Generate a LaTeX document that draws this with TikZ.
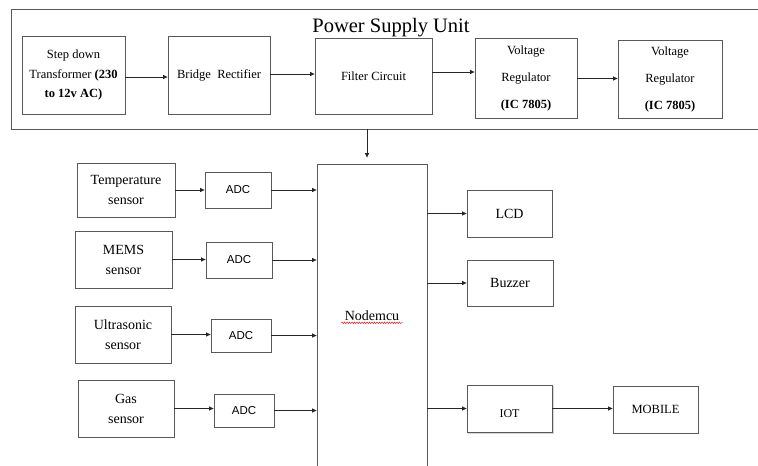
\documentclass[tikz,border=0pt]{standalone}
\usepackage{fontspec}
\setmainfont{Liberation Serif}
\setsansfont{Liberation Sans}
\usepackage{xcolor}
\usetikzlibrary{calc,positioning,arrows.meta,decorations.pathmorphing}

\tikzset{
  blk/.style={draw=black!65, line width=0.8pt, inner sep=0pt, align=center},
  arr/.style={draw=black!85, line width=0.7pt, -{Triangle[length=4.5pt,width=4pt]}},
}
\newcommand{\fs}[2]{\fontsize{#1}{#2}\selectfont}

\begin{document}
\begin{tikzpicture}[x=1pt, y=-1pt]
  \useasboundingbox (0,0) rectangle (758,466);
  \clip (0,0) rectangle (758,466);
  % --- power supply unit ---
  \node[blk, minimum width=760, minimum height=120] (psu) at (391,69) {};
  \node[font=\fs{20.5}{24}] (psutitle) at (391,28) {Power Supply Unit};
  \node[blk, minimum width=103, minimum height=78, font=\fs{12.5}{19.5}] (stepdown) at (73.5,75)
    {Step down\\Transformer \textbf{(230}\\\textbf{to 12v AC)}};
  \node[blk, minimum width=102, minimum height=78, font=\fs{12.5}{15}] (bridge) at (219,75) {Bridge\ \ Rectifier};
  \node[blk, minimum width=117, minimum height=76, font=\fs{12.5}{15}] (filter) at (373.5,76) {Filter Circuit};
  \node[blk, minimum width=102, minimum height=80, font=\fs{12.5}{27}] (regA) at (526,78.5)
    {Voltage\\Regulator\\\textbf{(IC 7805)}};
  \node[blk, minimum width=104, minimum height=78, font=\fs{12.5}{27}] (regB) at (670,79)
    {Voltage\\Regulator\\\textbf{(IC 7805)}};
  \draw[arr] ([yshift=-2pt]stepdown.east) -- ([yshift=-2pt]stepdown.east -| bridge.west);
  \draw[arr] ([yshift=1pt]bridge.east) -- ([yshift=1pt]bridge.east -| filter.west);
  \draw[arr] ([yshift=4pt]filter.east) -- ([yshift=4pt]filter.east -| regA.west);
  \draw[arr] (regA) -- (regA -| regB.west);
  % --- controller ---
  \node[blk, minimum width=110, minimum height=336] (nodemcu) at (372,332) {};
  \node[font=\fs{14}{16}] (nodelabel) at (372,316) {Nodemcu};
  \draw[red!80!black, line width=0.4pt, decorate,
        decoration={snake, amplitude=0.8pt, segment length=2.5pt}]
    ([yshift=-2pt]nodelabel.base west) -- ([yshift=-2pt]nodelabel.base east);
  \draw[arr, shorten >=6pt] (psu.south -| 367,0) -- (nodemcu.north -| 367,0);
  % --- sensors ---
  \node[blk, minimum width=98, minimum height=54, font=\fs{14}{20}] (temp) at (126,190) {Temperature\\sensor};
  \node[blk, minimum width=66, minimum height=36, font=\sffamily\fs{11.5}{14}] (adcA) at (238,190) {ADC};
  \node[blk, minimum width=97, minimum height=57, font=\fs{14}{20}] (mems) at (123.5,259.5) {MEMS\\sensor};
  \node[blk, minimum width=66, minimum height=36, font=\sffamily\fs{11.5}{14}] (adcB) at (239,260) {ADC};
  \node[blk, minimum width=96, minimum height=57, font=\fs{14}{20}] (ultra) at (123,334.5) {Ultrasonic\\sensor};
  \node[blk, minimum width=60, minimum height=33, font=\sffamily\fs{11.5}{14}] (adcC) at (241,335.5) {ADC};
  \node[blk, minimum width=96, minimum height=57, font=\fs{14}{20}] (gas) at (126,408.5) {Gas\\sensor};
  \node[blk, minimum width=60, minimum height=33, font=\sffamily\fs{11.5}{14}] (adcD) at (244,410.5) {ADC};
  \draw[arr] (temp) -- (temp -| adcA.west);
  \draw[arr] (mems) -- (mems -| adcB.west);
  \draw[arr] (ultra) -- (ultra -| adcC.west);
  \draw[arr] (gas) -- (gas -| adcD.west);
  \draw[arr] (adcA) -- (adcA -| nodemcu.west);
  \draw[arr] (adcB) -- (adcB -| nodemcu.west);
  \draw[arr] (adcC) -- (adcC -| nodemcu.west);
  \draw[arr] (adcD) -- (adcD -| nodemcu.west);
  % --- outputs ---
  \node[blk, minimum width=85, minimum height=47, font=\fs{14}{16}] (lcd) at (509.5,213.5) {LCD};
  \node[blk, minimum width=86, minimum height=46, font=\fs{14}{16}] (buzzer) at (510,283) {Buzzer};
  \draw[brown!35, line width=1pt] (553,386) -- (553,433) -- (468,433);
  \node[blk, fill=white, minimum width=85, minimum height=47] (iot) at (509.5,408.5) {};
  \node[font=\fs{12}{14}] (iottext) at ([yshift=-5pt]iot.center) {IOT};
  \node[blk, minimum width=85, minimum height=47, font=\fs{12.5}{14}] (mobile) at (655.5,409.5) {MOBILE};
  \draw[arr] (nodemcu.east |- lcd) -- (lcd);
  \draw[arr] (nodemcu.east |- buzzer) -- (buzzer);
  \draw[arr] (nodemcu.east |- iot) -- (iot);
  \draw[arr] (iot) -- (iot -| mobile.west);
\end{tikzpicture}
\end{document}
